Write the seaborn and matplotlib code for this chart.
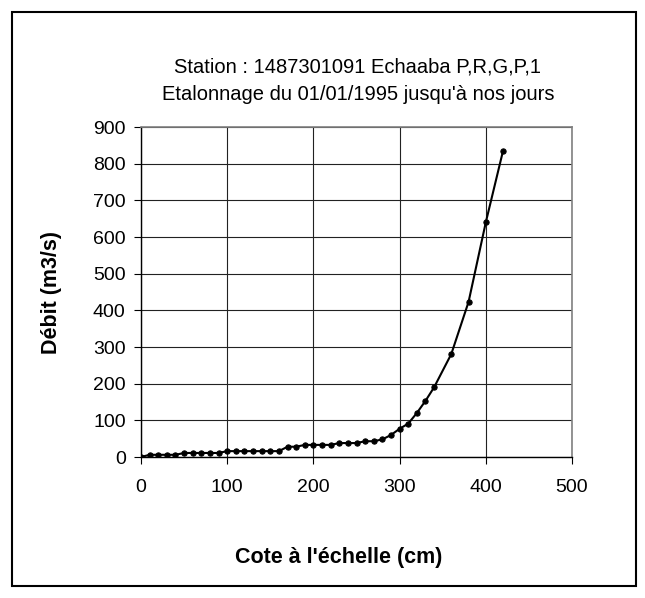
import numpy as np
import pandas as pd
import seaborn as sns
import matplotlib
matplotlib.use("Agg")
import matplotlib.pyplot as plt
from matplotlib.patches import Rectangle

# rating curve points
cote = [0, 10, 20, 30, 40, 50, 60, 70, 80, 90,
        100, 110, 120, 130, 140, 150, 160, 170, 180, 190,
        200, 210, 220, 230, 240, 250, 260, 270, 280, 290,
        300, 310, 320, 330, 340, 360, 380, 400, 420]
debit = [0, 6, 6, 6, 6, 11, 11, 11, 11, 11,
         16, 16, 16, 16, 16, 16, 16, 28, 28, 33,
         33, 33, 33, 38, 38, 38, 43, 43, 48, 60,
         77, 91, 120, 153, 190, 281, 423, 640, 835]

x_ticks = [0, 100, 200, 300, 400, 500]
y_ticks = [0, 100, 200, 300, 400, 500, 600, 700, 800, 900]

title_1 = "Station : 1487301091 Echaaba P,R,G,P,1"
title_2 = "Etalonnage du 01/01/1995 jusqu'à nos jours"

sns.set_style("white")
plt.rcParams['font.family'] = ['Liberation Sans', 'DejaVu Sans']
plt.rcParams['text.color'] = "black"

df = pd.DataFrame({"cote": cote, "debit": debit})

W, H = 645, 598
fig = plt.figure(figsize = (W / 100, H / 100), dpi = 100)
ax = fig.add_axes([141 / W, 1 - 457 / H, (572 - 141) / W, (457 - 127) / H])

sns.lineplot(data = df, x = "cote", y = "debit", ax = ax,
    color = "black", linewidth = 1.5, marker = "o", markersize = 3.8,
    markeredgecolor = "black")

ax.set_xlim(0, 500)
ax.set_ylim(0, 900)
ax.set_xticks(x_ticks)
ax.set_yticks(y_ticks)
ax.grid(True, color = "#222222", linewidth = 0.8)
ax.tick_params(axis = "both", direction = "out", length = 5, width = 0.8,
    color = "black", labelsize = 14, bottom = True, left = True,
    labelcolor = "black")
ax.tick_params(axis = "x", pad = 11)
ax.tick_params(axis = "y", pad = 6)
ax.set_xlabel("")
ax.set_ylabel("")

for side in ["left", "bottom"]:
    ax.spines[side].set_color("black")
    ax.spines[side].set_linewidth(1.0)
for side in ["top", "right"]:
    ax.spines[side].set_color("#808080")
    ax.spines[side].set_linewidth(1.2)

fig.text(358 / W, 1 - 67 / H, title_1, ha = "center", va = "center",
    fontsize = 14.5, color = "black")
fig.text(358 / W, 1 - 94 / H, title_2, ha = "center", va = "center",
    fontsize = 14.5, color = "black")
fig.text(339 / W, 1 - 557 / H, "Cote à l'échelle (cm)", ha = "center", va = "center",
    fontsize = 15.5, fontweight = "bold", color = "black")
fig.text(52 / W, 1 - 292 / H, "Débit (m3/s)", ha = "center", va = "center",
    rotation = 90, fontsize = 15.5, fontweight = "bold", color = "black")

# outer chart frame
fig.patches.append(Rectangle((12 / W, 12 / H), (636 - 12) / W, (586 - 12) / H,
    transform = fig.transFigure, fill = False, edgecolor = "black", linewidth = 1.5))

fig.savefig("out.png", dpi = 100)
plt.close('all')
